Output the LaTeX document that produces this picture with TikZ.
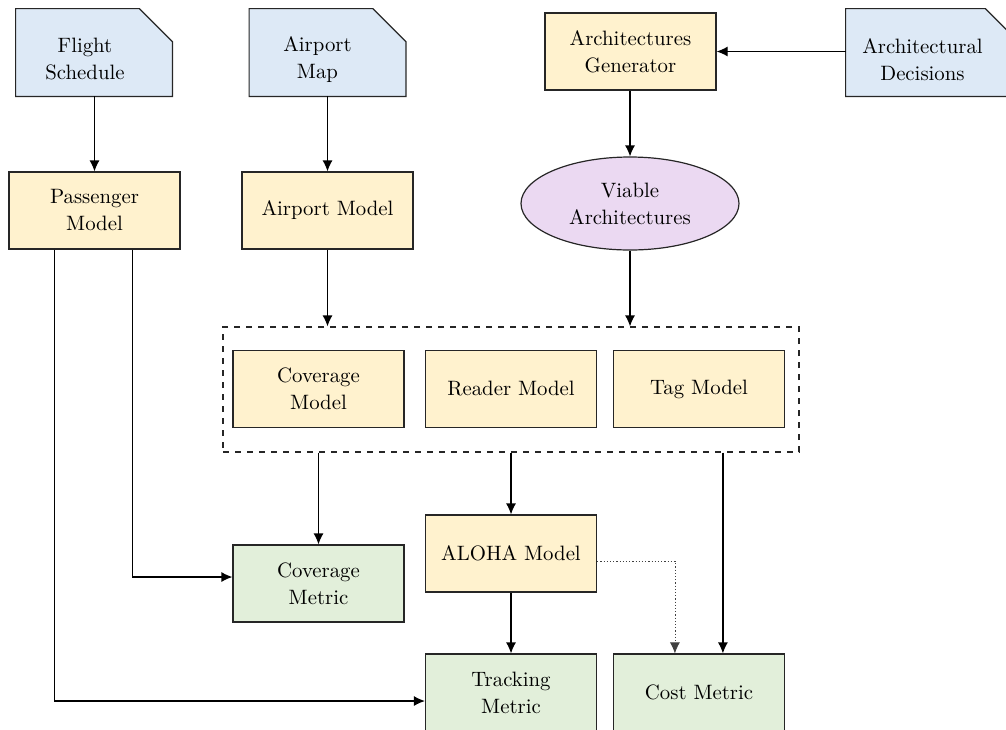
\documentclass[tikz,border=0pt]{standalone}
\usetikzlibrary{arrows.meta,shapes.geometric,backgrounds,calc}
\definecolor{docblue}{RGB}{221,233,246}
\definecolor{modelyellow}{RGB}{255,242,206}
\definecolor{metricgreen}{RGB}{226,239,218}
\definecolor{archpurple}{RGB}{235,217,242}
\begin{document}
\begin{tikzpicture}[x=0.5pt,y=-0.5pt, font=\fontsize{10.4pt}{13.5pt}\selectfont,
 box/.style={draw=black!85, line width=0.6pt, align=center, minimum width=85.5pt, minimum height=38.5pt, inner sep=0pt},
 model/.style={box, fill=modelyellow},
 metric/.style={box, fill=metricgreen},
 docnode/.style={minimum width=78pt, minimum height=43.5pt, inner sep=0pt},
 docshape/.style={draw=black!85, line width=0.6pt, fill=docblue},
 arr/.style={-{Latex[length=5.5pt,width=5pt]}, line width=0.6pt},
]
\useasboundingbox (0,0) rectangle (1006,729);
\clip (0,0) rectangle (1006,729);

% documents
\node[docnode] (fs) at (94,52.5) {};
\node[docnode] (amap) at (327.5,52.5) {};
\node[docnode, minimum width=86pt] (ad) at (932,52.5) {};
\begin{scope}[on background layer]
\foreach \n in {fs,amap,ad}
  \draw[docshape] (\n.south west) -- (\n.north west) -- ([xshift=-16.5pt]\n.north east) -- ([yshift=-16.5pt]\n.north east) -- (\n.south east) -- cycle;
\end{scope}
\node[align=center] (fst) at ([xshift=-4.5pt,yshift=-3.5pt]fs.center) {Flight\\Schedule};
\node[align=center] (amapt) at ([xshift=-5pt,yshift=-3.5pt]amap.center) {Airport\\Map};
\node[align=center] (adt) at ([xshift=-4.75pt,yshift=-3.5pt]ad.center) {Architectural\\Decisions};

% models
\node[model] (ag) at (630.5,51.5) {Architectures\\Generator};
\node[model] (pm) at (94.5,210.5) {Passenger\\Model};
\node[model] (am) at (327.5,210.5) {Airport Model};
\node[ellipse, draw=black!85, line width=0.6pt, fill=archpurple, minimum width=109pt, minimum height=46.5pt, inner sep=0pt, align=center] (va) at (630,203.5) {Viable\\Architectures};

\node[draw=black!85, line width=0.6pt, dashed, minimum width=288pt, minimum height=62.5pt, inner sep=0pt] (dash) at (511,389.5) {};
\node[model] (cov) at (318.5,389) {Coverage\\Model};
\node[model] (rm) at (511,389) {Reader Model};
\node[model] (tg) at (699,389) {Tag Model};

\node[model] (al) at (511,553.5) {ALOHA Model};
\node[metric] (cm) at (318.5,583.5) {Coverage\\Metric};
\node[metric] (tm) at (511,692.5) {Tracking\\Metric};
\node[metric] (cost) at (699,692.5) {Cost Metric};

% connectors
\draw[arr] (fs.south -| pm.north) -- (pm.north);
\draw[arr] (amap.south -| am.north) -- (am.north);
\draw[arr] (ag.south -| va.north) -- (va.north);
\draw[arr] (ad.west |- ag.east) -- (ag.east);
\draw[arr] (am.south) -- (am.south |- dash.north);
\draw[arr] (va.south) -- (va.south |- dash.north);
\draw[arr] ([xshift=62pt]pm.south west) |- ([yshift=3.25pt]cm.west);
\draw[arr] ([xshift=23pt]pm.south west) |- ([yshift=-4.25pt]tm.west);
\draw[arr] (dash.south -| cm.north) -- (cm.north);
\draw[arr] (dash.south -| al.north) -- (al.north);
\coordinate (c1) at ([xshift=55pt]cost.north west);
\draw[arr] (dash.south -| c1) -- (c1);
\draw[arr] (al.south) -- (tm.north);
\coordinate (c2) at ([xshift=31pt]cost.north west);
\draw[arr, densely dotted, line width=0.4pt, draw=black!75] ([yshift=-3.75pt]al.east) -| (c2);
\end{tikzpicture}
\end{document}
